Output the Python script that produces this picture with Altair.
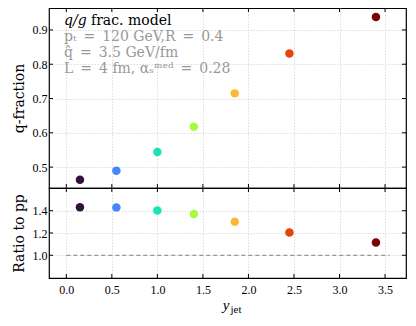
import altair as alt
import pandas as pd

# ---- data ----
y_jet = [0.15, 0.55, 1.0, 1.4, 1.85, 2.45, 3.4]
q_fraction = [0.463, 0.489, 0.544, 0.618, 0.715, 0.831, 0.938]
ratio_pp = [1.432, 1.43, 1.403, 1.37, 1.30, 1.204, 1.114]
point_colors = ["#30123b", "#4686fb", "#1ae4b6", "#a4fc3c", "#fbb938", "#e4460a", "#7a0403"]

x_ticks = [0.0, 0.5, 1.0, 1.5, 2.0, 2.5, 3.0, 3.5]
top_y_ticks = [0.5, 0.6, 0.7, 0.8, 0.9]
bot_y_ticks = [1.0, 1.2, 1.4]
ref_line = {"x0": [0.0], "x1": [3.55], "y": [1.0]}

E = "\u2002"
anno_lines = [f"pₜ{E}={E}120 GeV,R{E}={E}0.4", f"q̂{E}={E}3.5 GeV/fm", f"L{E}={E}4 fm, αₛᵐᵉᵈ{E}={E}0.28"]

W, H1, H2 = 357, 180, 90
TL = 4  # tick length (px)
FONT = "Liberation Serif"
FONT2 = "DejaVu Serif"

df = pd.DataFrame({"y_jet": y_jet, "qfrac": q_fraction, "ratio": ratio_pp, "color": point_colors})
xt = pd.DataFrame({"y_jet": x_ticks})
yt_top = pd.DataFrame({"qfrac": top_y_ticks})
yt_bot = pd.DataFrame({"ratio": bot_y_ticks})

xscale = alt.Scale(domain=[-0.19, 3.73], nice=False, zero=False)
yscale_top = alt.Scale(domain=[0.439, 0.964], nice=False, zero=False)
yscale_bot = alt.Scale(domain=[0.796, 1.604], nice=False, zero=False)

ax_x_top = alt.Axis(values=x_ticks, labels=False, ticks=False, domain=False, title=None, grid=True,
                    labelPadding=0, maxExtent=0, minExtent=0)
ax_x_bot = alt.Axis(values=x_ticks, format=".1f", title=None, ticks=False, domain=False,
                    grid=True, labelPadding=6)
ax_y_top = alt.Axis(values=top_y_ticks, format=".1f", title="q-fraction", ticks=False,
                    domain=False, grid=True, titlePadding=6)
ax_y_bot = alt.Axis(values=bot_y_ticks, format=".1f", title="Ratio to pp", ticks=False,
                    domain=False, grid=True, titlePadding=6)


def tick_layers(yt, yfield, yscale, ax_x, ax_y, H):
    X = alt.X("y_jet:Q", scale=xscale, axis=ax_x)
    Y = alt.Y(yfield + ":Q", scale=yscale, axis=ax_y)
    bx = alt.Chart(xt).mark_rule(color="black", strokeWidth=1).encode(
        x=X, y=alt.value(H), y2=alt.value(H - TL))
    tx = alt.Chart(xt).mark_rule(color="black", strokeWidth=1).encode(
        x=X, y=alt.value(0), y2=alt.value(TL))
    ly = alt.Chart(yt).mark_rule(color="black", strokeWidth=1).encode(
        y=Y, x=alt.value(0), x2=alt.value(TL))
    ry = alt.Chart(yt).mark_rule(color="black", strokeWidth=1).encode(
        y=Y, x=alt.value(W), x2=alt.value(W - TL))
    return [bx, tx, ly, ry]


def txt(text, x, y, size=14, color="black", italic=False, align="left", font=FONT2):
    kw = dict(align=align, baseline="alphabetic", fontSize=size, color=color, font=font)
    if italic:
        kw["fontStyle"] = "italic"
    return alt.Chart(df.head(1)).mark_text(**kw).encode(
        x=alt.value(x), y=alt.value(y), text=alt.value(text))


# ---- top panel ----
top_pts = alt.Chart(df).mark_circle(size=72, opacity=1).encode(
    x=alt.X("y_jet:Q", scale=xscale, axis=ax_x_top),
    y=alt.Y("qfrac:Q", scale=yscale_top, axis=ax_y_top),
    color=alt.Color("color:N", scale=None),
)

anno = [
    txt("q/g", 15, 17, italic=True),
    txt("frac. model", 42, 17),
    txt(anno_lines[0], 15, 33, size=14, color="#999999"),
    txt(anno_lines[1], 15, 49, size=14, color="#999999"),
    txt(anno_lines[2], 15, 64.5, size=14, color="#999999"),
]

top = alt.layer(top_pts, *anno, *tick_layers(yt_top, "qfrac", yscale_top, ax_x_top, ax_y_top, H1)
                ).properties(width=W, height=H1)

# ---- bottom panel ----
bot_pts = alt.Chart(df).mark_circle(size=72, opacity=1).encode(
    x=alt.X("y_jet:Q", scale=xscale, axis=ax_x_bot),
    y=alt.Y("ratio:Q", scale=yscale_bot, axis=ax_y_bot),
    color=alt.Color("color:N", scale=None),
)
rl = alt.Chart(pd.DataFrame(ref_line)).mark_rule(color="#808080", strokeDash=[4, 3], strokeWidth=1).encode(
    x=alt.X("x0:Q", scale=xscale, axis=ax_x_bot), x2="x1:Q",
    y=alt.Y("y:Q", scale=yscale_bot, axis=ax_y_bot))

bottom = alt.layer(bot_pts, rl, txt("y", W / 2 + 2, H2 + 32, size=15, italic=True, align="right", font=FONT),
                   txt("jet", W / 2 + 3, H2 + 35, size=11, font=FONT),
                   *tick_layers(yt_bot, "ratio", yscale_bot, ax_x_bot, ax_y_bot, H2)
                   ).properties(width=W, height=H2)

chart = alt.vconcat(top, bottom, spacing=0, bounds="flush").properties(
    padding={"left": 3, "top": -2, "right": 0, "bottom": 0}
).configure(font=FONT).configure_view(
    stroke="black", strokeWidth=1.2
).configure_axis(
    labelFont=FONT, titleFont=FONT2, labelFontSize=12, titleFontSize=14,
    labelColor="black", titleColor="black", titleFontWeight="normal",
    gridColor="#d4d4d4", gridDash=[1.5, 1.5], gridWidth=0.8,
)

chart.save("out.html", embed_options={"renderer": "svg", "actions": False})
